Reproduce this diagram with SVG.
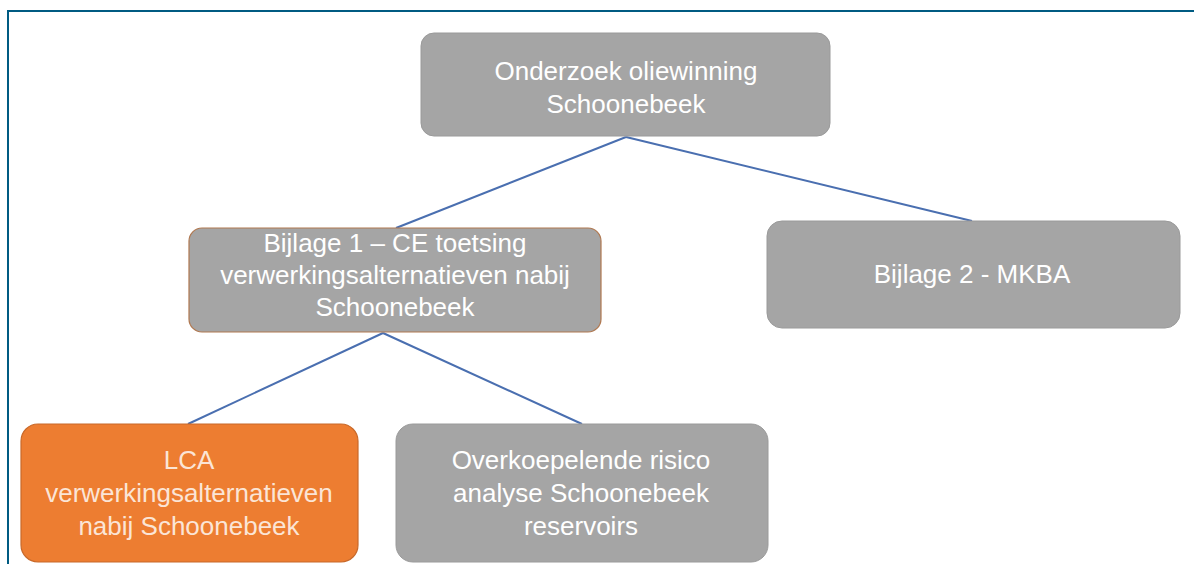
<svg xmlns="http://www.w3.org/2000/svg" width="1194" height="564" viewBox="0 0 1194 564">
<style>
.box{fill:#a5a5a5;stroke:#9a9a9a;stroke-width:1}
.b1{fill:#a5a5a5;stroke:#b07850;stroke-width:1.2}
.lca{fill:#ed7d31;stroke:#c8692a;stroke-width:1.2}
.t{font-family:"Liberation Sans",Arial,sans-serif;font-size:26px;fill:#ffffff;text-anchor:middle}
.t2{fill:#fbe5d6}
.c{stroke:#4a6fb0;stroke-width:2;fill:none}
</style>
<rect x="0" y="0" width="1194" height="564" fill="#ffffff"/>
<path d="M8 564 V11 H1194" fill="none" stroke="#005b82" stroke-width="2"/>
<g id="connectors">
<line class="c" x1="626" y1="137" x2="396" y2="228"/>
<line class="c" x1="626" y1="137" x2="972" y2="221"/>
<line class="c" x1="383" y1="333" x2="188" y2="424"/>
<line class="c" x1="383" y1="333" x2="582" y2="424"/>
</g>
<g id="node-top">
<rect class="box" x="421" y="33" width="409" height="103" rx="13"/>
<text class="t" x="626" y="80">Onderzoek oliewinning</text>
<text class="t" x="626" y="113">Schoonebeek</text>
</g>
<g id="node-bijlage1">
<rect class="b1" x="189" y="228" width="412" height="104" rx="13"/>
<text class="t" x="395" y="252">Bijlage 1 – CE toetsing</text>
<text class="t" x="395" y="284">verwerkingsalternatieven nabij</text>
<text class="t" x="395" y="316">Schoonebeek</text>
</g>
<g id="node-bijlage2">
<rect class="box" x="767" y="221" width="413" height="107" rx="15"/>
<text class="t" x="972" y="283">Bijlage 2 - MKBA</text>
</g>
<g id="node-lca">
<rect class="lca" x="21" y="424" width="337" height="138" rx="17"/>
<text class="t t2" x="189" y="469">LCA</text>
<text class="t t2" x="189" y="502">verwerkingsalternatieven</text>
<text class="t t2" x="189" y="535">nabij Schoonebeek</text>
</g>
<g id="node-overkoepelende">
<rect class="box" x="396" y="424" width="372" height="138" rx="17"/>
<text class="t" x="581" y="469">Overkoepelende risico</text>
<text class="t" x="581" y="502">analyse Schoonebeek</text>
<text class="t" x="581" y="535">reservoirs</text>
</g>
</svg>
